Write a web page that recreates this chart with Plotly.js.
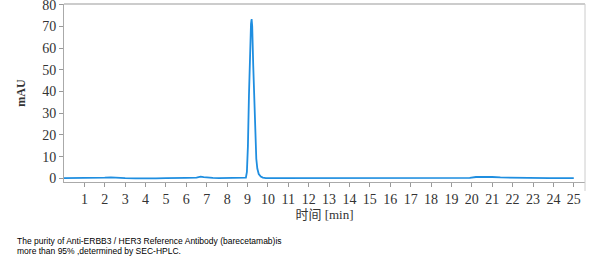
<!DOCTYPE html>
<html><head><meta charset="utf-8">
<script src="https://cdn.plot.ly/plotly-3.0.1.min.js"></script>
<style>html,body{margin:0;padding:0;background:#fff}#c{width:589px;height:266px}</style>
</head><body><div id="c"></div>
<script>
// Retention time [min] and absorbance [mAU]
const timeMin = [0,0.5,1,1.5,2,2.3,2.6,3,3.5,4,4.5,5,5.5,6,6.5,6.7,6.85,7,7.3,7.6,8,8.3,8.6,8.8,8.92,8.97,9.02,9.07,9.12,9.17,9.2,9.23,9.28,9.33,9.38,9.43,9.48,9.55,9.65,9.75,9.9,10.2,10.6,11,11.5,12,12.5,13,13.5,14,14.5,15,15.5,16,16.5,17,17.5,18,18.5,19,19.5,19.9,20.2,20.6,21,21.4,21.8,22.3,22.8,23.3,23.8,24.3,24.7,25];
const absMau = [0.1,0.1,0.0,0.1,0.3,0.4,0.2,0.1,0.0,-0.1,0.0,0.1,0.0,0.2,0.3,0.8,0.5,0.3,0.2,0.1,0.1,0.1,0.1,0.2,0.3,3,15,38,58,71,73.4,70,52,34,18,9,4.5,2,0.8,0.3,0.1,0.1,0.1,0.1,0.0,0.2,0.1,0.2,0.1,0.0,0.1,0.0,0.1,0.1,0.0,0.1,0.2,0.2,0.1,0.0,0.1,0.2,0.6,0.7,0.6,0.4,0.3,0.2,0.2,0.1,0.1,0.1,0.1,0.1];
const xTicks = [1,2,3,4,5,6,7,8,9,10,11,12,13,14,15,16,17,18,19,20,21,22,23,24,25];
const yTicks = [0,10,20,30,40,50,60,70,80];
const xTitle = '时间 [min]';
const yTitle = 'mAU';
const captionLines = ['The purity of Anti-ERBB3 / HER3 Reference Antibody (barecetamab)is', 'more than 95% ,determined by SEC-HPLC.'];

const tickFont = {family:'Liberation Serif, Noto Sans CJK SC, serif', size:14, color:'#333'};
const capFont = {family:'Liberation Sans, DejaVu Sans, sans-serif', size:8.5, color:'#000'};
Plotly.newPlot('c', [{
  x: timeMin, y: absMau, type:'scatter', mode:'lines',
  line:{color:'#1f8ee0', width:1.8},
  hoverinfo:'skip'
}], {
  width:589, height:266,
  margin:{l:64, r:4, t:4, b:84},
  paper_bgcolor:'#ffffff', plot_bgcolor:'#ffffff',
  showlegend:false,
  xaxis:{range:[0,25.55], tickvals:xTicks, ticktext:xTicks.map(String), ticks:'outside', ticklen:4, tickcolor:'#999',
    showline:true, linecolor:'#aaa', linewidth:1, showgrid:false, zeroline:false, tickfont:tickFont,
    title:{text:xTitle, font:{family:'Liberation Serif, Noto Sans CJK SC, serif', size:13, color:'#333'}, standoff:4}},
  yaxis:{range:[-1.7,80.3], tickvals:yTicks, ticks:'outside', ticklen:4, tickcolor:'#999', ticklabeloverflow:'allow',
    showline:true, linecolor:'#aaa', linewidth:1, showgrid:false, zeroline:false, tickfont:tickFont,
    title:{text:yTitle, font:{family:'Liberation Serif, serif', size:12, color:'#333', weight:'bold'}, standoff:14}},
  shapes:[
    {type:'line', xref:'paper', yref:'paper', x0:0, x1:1, y0:1, y1:1, line:{color:'#ccc', width:2}},
    {type:'line', xref:'paper', yref:'paper', x0:1, x1:1, y0:-0.05, y1:1, line:{color:'#ccc', width:1}}
  ],
  annotations: captionLines.map((t, i) => ({xref:'paper', yref:'paper', x:-0.094, y:-0.331 - i*0.057,
    xanchor:'left', yanchor:'middle', align:'left', showarrow:false, text:t, font:capFont}))
}, {displayModeBar:false, staticPlot:true});
</script></body></html>
